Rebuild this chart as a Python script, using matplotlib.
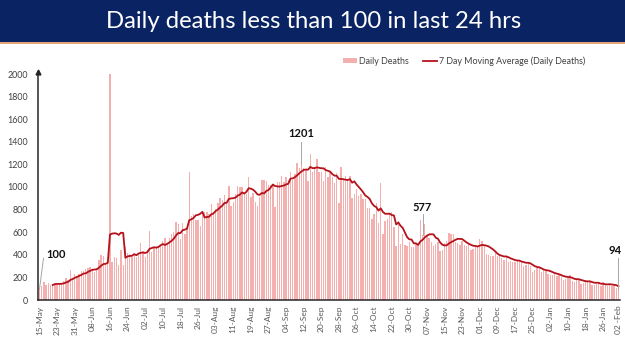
import matplotlib
matplotlib.use('Agg')
import matplotlib.pyplot as plt
import numpy as np
import pandas as pd
from matplotlib.lines import Line2D
from matplotlib.patches import Patch, Rectangle

# ---- data (daily deaths, 15-May-2020 .. 02-Feb-2021) ----
may = [100, 120, 157, 134, 147, 134, 140, 148, 137, 154, 146, 170, 194, 175, 265, 193, 230]
jun = [204, 230, 260, 259, 273, 287, 294, 266, 246, 279, 357, 396, 386, 311, 325, 2003,
       334, 380, 375, 306, 445, 312, 465, 418, 407, 384, 410, 380, 418, 507]
jul = [434, 379, 442, 613, 425, 467, 482, 475, 487, 519, 551, 500, 553, 582, 606, 687,
       671, 543, 681, 587, 648, 1129, 740, 757, 705, 708, 654, 768, 775, 779, 764]
aug = [853, 771, 803, 857, 904, 886, 933, 871, 1007, 834, 871, 942, 1007, 996, 1003, 944,
       941, 1092, 912, 948, 870, 836, 912, 1059, 1065, 1057, 1017, 1021, 1022, 819, 1043]
sep = [1045, 1096, 1043, 1089, 1065, 1133, 1066, 1115, 1209, 1172, 1201, 1164, 1156, 1054, 1290,
       1132, 1174, 1247, 1133, 1130, 1053, 1179, 1085, 1129, 1089, 1039, 1124, 856, 1179, 1069]
oct_ = [1095, 1069, 1096, 903, 940, 986, 918, 939, 895, 890, 816, 810, 720, 760, 860, 680,
        1033, 587, 702, 717, 771, 776, 650, 480, 703, 500, 587, 490, 480, 517, 470]
nov = [470, 496, 490, 704, 577, 670, 576, 547, 510, 480, 500, 512, 435, 440, 501, 524,
       590, 584, 580, 511, 501, 491, 518, 485, 482, 496, 443, 447, 478, 482]
dec = [540, 526, 482, 411, 402, 386, 391, 416, 387, 393, 368, 355, 391, 340, 347, 338,
       336, 341, 347, 331, 304, 312, 333, 301, 251, 264, 279, 286, 251, 262, 257]
jan = [234, 224, 217, 228, 212, 224, 201, 180, 188, 195, 217, 170, 161, 180, 175, 145,
       151, 181, 163, 162, 137, 131, 140, 151, 123, 163, 131, 127, 145, 120, 127]
feb = [108, 94]

daily_deaths = may + jun + jul + aug + sep + oct_ + nov + dec + jan + feb

tick_labels = ['15-May', '23-May', '31-May', '08-Jun', '16-Jun', '24-Jun', '02-Jul', '10-Jul',
               '18-Jul', '26-Jul', '03-Aug', '11-Aug', '19-Aug', '27-Aug', '04-Sep', '12-Sep',
               '20-Sep', '28-Sep', '06-Oct', '14-Oct', '22-Oct', '30-Oct', '07-Nov', '15-Nov',
               '23-Nov', '01-Dec', '09-Dec', '17-Dec', '25-Dec', '02-Jan', '10-Jan', '18-Jan',
               '26-Jan', '02 -Feb']
tick_days = [0, 8, 16, 24, 32, 40, 48, 56, 64, 72, 80, 88, 96, 104, 112, 120, 128, 136,
             144, 152, 160, 168, 176, 184, 192, 200, 208, 216, 224, 232, 240, 248, 256, 263]

# labelled points (day index)
labelled_days = [0, 119, 174, 263]

title = 'Daily deaths less than 100 in last 24 hrs'

# ---- figure ----
W, H = 625, 351
fig = plt.figure(figsize=(W / 100, H / 100), dpi=100)
fig.patch.set_facecolor('white')

# banner
fig.add_artist(Rectangle((0, 1 - 42 / H), 1, 42 / H, transform=fig.transFigure,
                         facecolor='#0A2463', edgecolor='none', zorder=0))
fig.add_artist(Rectangle((0, 1 - 44 / H), 1, 2 / H, transform=fig.transFigure,
                         facecolor='#E3A57A', edgecolor='none', zorder=0))
fig.text(314 / W, 1 - 21 / H, title, color='white', fontsize=17.2, family='Lato',
         ha='center', va='center')

ax = fig.add_axes([38 / W, 1 - 300 / H, (620 - 38) / W, 226 / H])
x = np.arange(len(daily_deaths))
s = pd.Series(daily_deaths, dtype=float)
ma = s.rolling(7).mean()

bar_color = '#F4AFAF'
line_color = '#B5121B'
ax.bar(x, daily_deaths, width=0.62, color=bar_color, linewidth=0, zorder=2)
ax.plot(x, ma, color=line_color, lw=1.3, zorder=3)

ax.set_xlim(-0.7, len(daily_deaths) - 0.3)
ax.set_ylim(0, 2000)
ax.set_yticks(np.arange(0, 2001, 200))
ax.set_xticks(tick_days)
ax.set_xticklabels(tick_labels, rotation=90, fontsize=6, color='#595959', family='Lato')
for lab in ax.get_yticklabels():
    lab.set_fontsize(6.4)
    lab.set_color('#404040')
    lab.set_family('Lato')
ax.tick_params(axis='both', length=0)
ax.tick_params(axis='y', pad=7)
ax.tick_params(axis='x', pad=4)
for sp in ['top', 'right']:
    ax.spines[sp].set_visible(False)
for sp in ['left', 'bottom']:
    ax.spines[sp].set_color('#262626')
    ax.spines[sp].set_linewidth(1.1)
ax.spines['left'].set_bounds(0, 2015)
ax.plot([0], [1.008], marker='^', markersize=3.5, color='#262626',
        transform=ax.transAxes, clip_on=False, zorder=5)

# data labels with leader lines
label_pos = {0: (7.5, 405), 119: (119, 1470), 174: (174, 820), 263: (261.5, 436)}
leader_end = {0: (1.8, 370), 119: (119, 1400), 174: (174, 760), 263: (263, 375)}
for d in labelled_days:
    v = daily_deaths[d]
    ex, ey = leader_end[d]
    ax.plot([d, ex], [v, ey], color='#A6A6A6', lw=0.7, zorder=4)
    lx, ly = label_pos[d]
    ax.text(lx, ly, str(v), fontsize=8, fontweight='bold', family='Lato',
            color='#111111', ha='center', va='center', zorder=6)

# legend
handles = [Patch(facecolor=bar_color, edgecolor='none'),
           Line2D([0], [0], color=line_color, lw=1.3)]
leg = fig.legend(handles, ['Daily Deaths', '7 Day Moving Average (Daily Deaths)'],
                 loc='center', bbox_to_anchor=(464 / W, 1 - 61 / H), ncol=2, frameon=False,
                 prop={'family': 'Lato', 'size': 6.4}, handlelength=1.6, handleheight=0.6,
                 handletextpad=0.2, columnspacing=1.6)
for t in leg.get_texts():
    t.set_color('#404040')

fig.savefig('out.png', dpi=100)
